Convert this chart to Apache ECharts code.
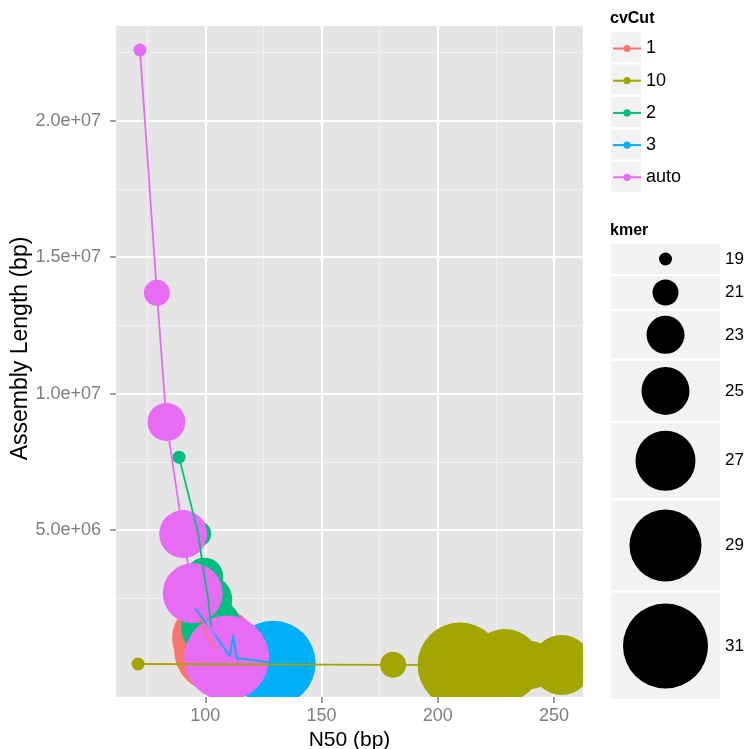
<!DOCTYPE html>
<html>
<head>
<meta charset="utf-8">
<script src="https://cdn.jsdelivr.net/npm/echarts@6/dist/echarts.min.js"></script>
<style>
  html, body { margin: 0; padding: 0; background: #fff; }
  #main { width: 746px; height: 749px; }
</style>
</head>
<body>
<div id="main"></div>
<script>
// groups (cvCut) and kmer levels
const groups = ['1', '10', '2', '3', 'auto'];
const kmers = [19, 21, 23, 25, 27, 29, 31];

// per group: kmer, N50 (bp), assembly length (bp)
const kmer_1 = [19, 21, 23, 25, 27, 29, 31];
const n50_1 = [96.3, 97.5, 98.6, 99.6, 100.2, 101.2, 104.9];
const len_1 = [2.07e6, 1.85e6, 1.65e6, 1.45e6, 1.30e6, 1.05e6, 0.60e6];

const kmer_10 = [19, 21, 23, 25, 27, 29, 31];
const n50_10 = [71.1, 180.8, 215.0, 240.0, 253.3, 228.9, 209.6];
const len_10 = [0.09e6, 0.06e6, 0.05e6, 0.05e6, 0.05e6, 0.05e6, 0.05e6];

const kmer_2 = [19, 21, 23, 25, 27];
const n50_2 = [88.7, 97.0, 99.6, 101.3, 102.6];
const len_2 = [7.67e6, 4.86e6, 3.29e6, 2.45e6, 1.43e6];

const kmer_3 = [21, 19, 29, 23, 27, 25, 31];
const n50_3 = [95.6, 102.8, 110.6, 112.0, 113.5, 122.0, 129.2];
const len_3 = [2.13e6, 1.33e6, 0.36e6, 1.15e6, 0.30e6, 0.22e6, 0.12e6];

const kmer_auto = [19, 21, 23, 25, 27, 29, 31];
const n50_auto = [71.9, 79.2, 83.3, 90.5, 94.6, 107.5, 109.2];
const len_auto = [22.59e6, 13.69e6, 8.96e6, 4.85e6, 2.68e6, 0.50e6, 0.31e6];

const kmerCols = [kmer_1, kmer_10, kmer_2, kmer_3, kmer_auto];
const n50s = [n50_1, n50_10, n50_2, n50_3, n50_auto];
const lens = [len_1, len_10, len_2, len_3, len_auto];

// axis breaks and labels
const xBreaks = [100, 150, 200, 250];
const xMinor = [75, 125, 175, 225];
const yBreaks = [5e6, 10e6, 15e6, 20e6];
const yLabels = ['5.0e+06', '1.0e+07', '1.5e+07', '2.0e+07'];
const yMinor = [2.5e6, 7.5e6, 12.5e6, 17.5e6, 22.5e6];

// styling
const colors = ['#F8766D', '#A3A500', '#00BF7D', '#00B0F6', '#E76BF3'];
const kmerSizes = [13, 26, 38, 48, 60, 72, 85]; // point diameter (px)
const font = 'Liberation Sans, Arial, sans-serif';

const dom = document.getElementById('main');
const myChart = echarts.init(dom, null, { renderer: 'canvas' });

// grid lines via markLine on a helper series
const gridLines = [];
xMinor.forEach(v => gridLines.push({ xAxis: v, lineStyle: { color: '#F2F2F2', width: 1 } }));
yMinor.forEach(v => gridLines.push({ yAxis: v, lineStyle: { color: '#F2F2F2', width: 1 } }));
xBreaks.forEach(v => gridLines.push({ xAxis: v, lineStyle: { color: '#FFFFFF', width: 2 } }));
yBreaks.forEach(v => gridLines.push({ yAxis: v, lineStyle: { color: '#FFFFFF', width: 2 } }));

const series = [{
  name: '__grid', type: 'line', data: [[70, 0]], showSymbol: false,
  lineStyle: { width: 0 }, silent: true, z: 1,
  markLine: { silent: true, z: 1, symbol: ['none', 'none'], label: { show: false },
    lineStyle: { type: 'solid' }, data: gridLines }
}];

// lines first (legend takes its icon from them), drawn above the points
groups.forEach((g, i) => {
  const pts = n50s[i].map((x, j) => [x, lens[i][j]]).sort((a, b) => a[0] - b[0]);
  series.push({
    name: g, type: 'line', data: pts, showSymbol: false, symbol: 'circle',
    lineStyle: { color: colors[i], width: 1.8 }, itemStyle: { color: colors[i] },
    z: 3, silent: true
  });
});

// points: custom series so big circles are clipped to the panel
groups.forEach((g, i) => {
  series.push({
    name: g, type: 'custom', clip: true, z: 2, silent: true,
    encode: { x: 0, y: 1 },
    data: n50s[i].map((x, j) => [x, lens[i][j], kmerCols[i][j]]),
    renderItem: function (params, api) {
      const c = api.coord([api.value(0), api.value(1)]);
      const d = kmerSizes[kmers.indexOf(api.value(2))];
      return { type: 'circle', shape: { cx: c[0], cy: c[1], r: d / 2 }, style: { fill: colors[i] } };
    }
  });
});

// legend decorations
const graphics = [];
graphics.push({ type: 'text', x: 610, y: 11,
  style: { text: 'cvCut', font: 'bold 16px ' + font, fill: '#000' } });
groups.forEach((g, i) => {
  graphics.push({ type: 'rect', shape: { x: 611, y: 32 + 32.5 * i, width: 30, height: 30 },
    style: { fill: '#F2F2F2' } });
});

graphics.push({ type: 'text', x: 610, y: 223,
  style: { text: 'kmer', font: 'bold 16px ' + font, fill: '#000' } });
let ky = 244;
kmers.forEach((k, i) => {
  const d = kmerSizes[i];
  const h = Math.max(30, d * 1.25);
  graphics.push({ type: 'rect', shape: { x: 611, y: ky, width: 109, height: h }, style: { fill: '#F2F2F2' } });
  graphics.push({ type: 'circle', shape: { cx: 665.5, cy: ky + h / 2, r: d / 2 }, style: { fill: '#000' } });
  graphics.push({ type: 'text', x: 725, y: ky + h / 2,
    style: { text: String(k), font: '17px ' + font, fill: '#000', verticalAlign: 'middle' } });
  ky += h + 2.3;
});

const option = {
  animation: false,
  grid: { left: 116, right: 163, top: 26, bottom: 52,
    outerBoundsMode: 'none', containLabel: false,
    show: true, backgroundColor: '#E5E5E5', borderWidth: 0 },
  xAxis: {
    type: 'value', min: 61.6, max: 262.5,
    axisLine: { show: false, onZero: false },
    axisTick: { show: true, length: 6, customValues: xBreaks, lineStyle: { color: '#7F7F7F', width: 1.5 } },
    axisLabel: { customValues: xBreaks, color: '#7F7F7F', fontSize: 18, fontFamily: font, margin: 10 },
    splitLine: { show: false },
    name: 'N50 (bp)', nameLocation: 'middle', nameGap: 27,
    nameTextStyle: { fontSize: 21, color: '#000', fontFamily: font }
  },
  yAxis: {
    type: 'value', min: -1.12e6, max: 23.47e6,
    axisLine: { show: false, onZero: false },
    axisTick: { show: true, length: 6, customValues: yBreaks, lineStyle: { color: '#7F7F7F', width: 1.5 } },
    axisLabel: { customValues: yBreaks, color: '#7F7F7F', fontSize: 18, fontFamily: font, margin: 15,
      formatter: v => yLabels[yBreaks.indexOf(v)] || '' },
    splitLine: { show: false },
    name: 'Assembly Length (bp)', nameLocation: 'middle', nameGap: 84, nameMoveOverlap: false,
    nameTextStyle: { fontSize: 23, color: '#000', fontFamily: font, padding: [0, 0, 0, 26] }
  },
  legend: {
    data: groups, orient: 'vertical', left: 612, top: 38.5, padding: 0,
    itemWidth: 28, itemHeight: 9, itemGap: 12.2, selectedMode: false,
    textStyle: { fontSize: 18, lineHeight: 20, color: '#000', fontFamily: font }
  },
  graphic: graphics,
  series: series
};

myChart.setOption(option);
window.addEventListener('resize', function () { myChart.resize(); });
</script>
</body>
</html>
